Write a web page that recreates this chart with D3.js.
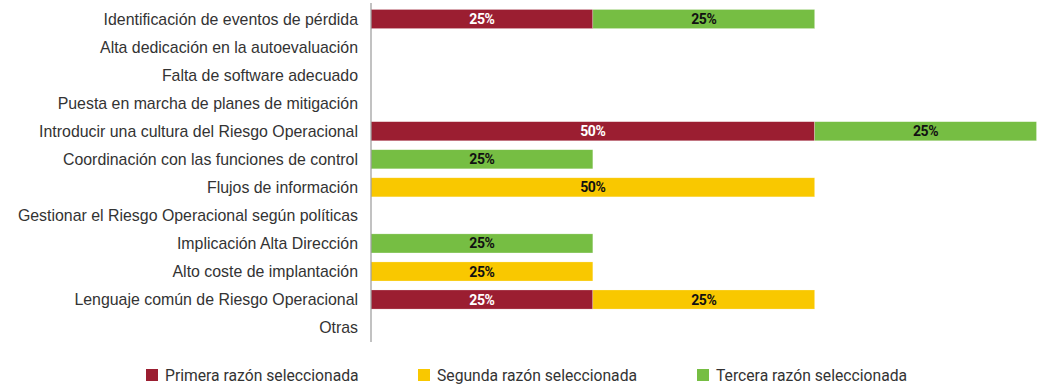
<!DOCTYPE html>
<html><head><meta charset="utf-8">
<script src="https://cdn.jsdelivr.net/npm/d3@7/dist/d3.min.js"></script>
<style>
body{margin:0;background:#fff;}
svg{display:block;}
.cat{font-family:"Liberation Sans",Arial,sans-serif;font-size:15.9px;fill:#333;}
.val{font-family:"Roboto","Liberation Sans",sans-serif;font-weight:bold;font-size:14px;letter-spacing:-0.4px;}
.leg{font-family:"Roboto","Liberation Sans",sans-serif;font-size:15.7px;fill:#333;}
</style></head>
<body>
<svg id="c" width="1049" height="385"></svg>
<script>
const categories = [
  "Identificación de eventos de pérdida",
  "Alta dedicación en la autoevaluación",
  "Falta de software adecuado",
  "Puesta en marcha de planes de mitigación",
  "Introducir una cultura del Riesgo Operacional",
  "Coordinación con las funciones de control",
  "Flujos de información",
  "Gestionar el Riesgo Operacional según políticas",
  "Implicación Alta Dirección",
  "Alto coste de implantación",
  "Lenguaje común de Riesgo Operacional",
  "Otras"
];
const seriesNames = ["Primera razón seleccionada","Segunda razón seleccionada","Tercera razón seleccionada"];
const primera = [25,0,0,0,50,0,0,0,0,0,25,0];
const segunda = [0,0,0,0,0,0,50,0,0,25,25,0];
const tercera = [25,0,0,0,25,25,0,0,25,0,0,0];
const colors = ["#9b1e31","#f9c800","#76be43"];
const labelColors = ["#ffffff","#111111","#111111"];

const svg = d3.select("#c");
const x = d3.scaleLinear().domain([0,75]).range([371,1036.5]);
const y = d3.scaleBand().domain(categories).range([5,341.6]).paddingInner(0.32).paddingOuter(0.16);

const rows = categories.map((c,i)=>({cat:c, s0:primera[i], s1:segunda[i], s2:tercera[i]}));
const stack = d3.stack().keys(["s0","s1","s2"])(rows);

stack.forEach((layer,k)=>{
  const g = svg.append("g");
  layer.forEach((d,i)=>{
    if (d[1]-d[0] <= 0) return;
    g.append("rect")
      .attr("x", x(d[0])).attr("y", y(categories[i]))
      .attr("width", x(d[1])-x(d[0])).attr("height", y.bandwidth())
      .attr("fill", colors[k]).attr("stroke","#ffffff").attr("stroke-opacity",0.4).attr("stroke-width",0.6);
    g.append("text").attr("class","val")
      .attr("x", (x(d[0])+x(d[1]))/2).attr("y", y(categories[i])+y.bandwidth()/2)
      .attr("dy","0.36em").attr("text-anchor","middle").attr("fill",labelColors[k])
      .text((d[1]-d[0])+"%");
  });
});

// axis line
svg.append("line").attr("x1",371).attr("x2",371).attr("y1",3).attr("y2",342)
  .attr("stroke","#999").attr("stroke-width",1.2);

// category labels
svg.append("g").selectAll("text").data(categories).join("text")
  .attr("class","cat").attr("x",358).attr("y",d=>y(d)+y.bandwidth()/2).attr("dy","0.36em")
  .attr("text-anchor","end").text(d=>d);

// legend
const legX = [146,418,697];
const lg = svg.append("g");
seriesNames.forEach((n,k)=>{
  lg.append("rect").attr("x",legX[k]).attr("y",369).attr("width",12).attr("height",12).attr("fill",colors[k]);
  lg.append("text").attr("class","leg").attr("x",legX[k]+19).attr("y",375.5).attr("dy","0.36em").text(n);
});
</script>
</body></html>
